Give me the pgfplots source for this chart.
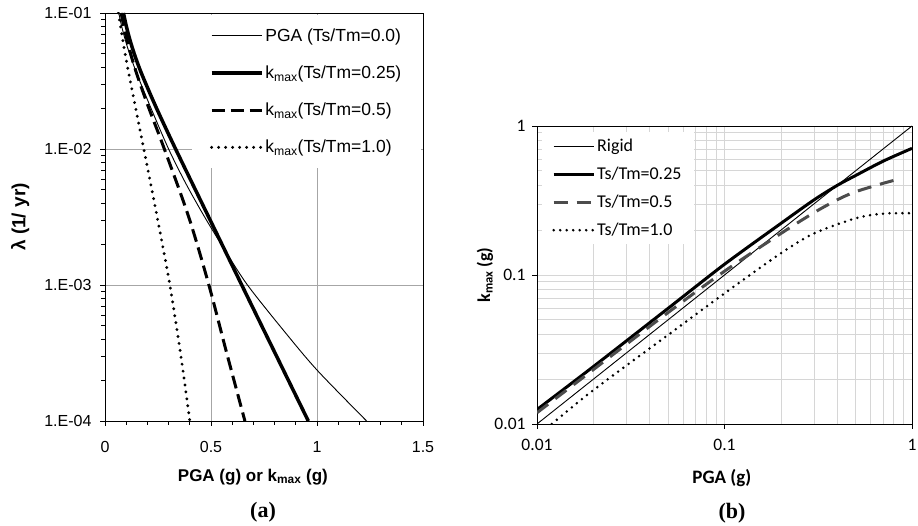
\documentclass[border=0pt]{standalone}
\usepackage{fontspec}
\setmainfont{Liberation Sans}
\newfontfamily\calibri{Carlito}
\newfontfamily\timesf{Liberation Serif}
\usepackage{pgfplots}
\pgfplotsset{compat=1.18}
\begin{document}
\begin{tikzpicture}
\useasboundingbox (0pt,0pt) rectangle (918pt,526pt);
% ---------------- panel (a) ----------------
\begin{axis}[
  name=A, at={(105pt,105pt)}, anchor=south west,
  scale only axis, width=318pt, height=408pt,
  ymode=log, xmin=0, xmax=1.5, ymin=1e-4, ymax=1e-1,
  xtick={0,0.5,1,1.5}, xticklabels={0,0.5,1,1.5},
  minor xtick={0.1,0.2,0.3,0.4,0.6,0.7,0.8,0.9,1.1,1.2,1.3,1.4},
  ytick={1e-4,1e-3,1e-2,1e-1}, yticklabels={1.E-04,1.E-03,1.E-02,1.E-01},
  minor ytick={2e-4,3e-4,4e-4,5e-4,6e-4,7e-4,8e-4,9e-4,2e-3,3e-3,4e-3,5e-3,6e-3,7e-3,8e-3,9e-3,2e-2,3e-2,4e-2,5e-2,6e-2,7e-2,8e-2,9e-2},
  tick align=outside, xtick pos=left, ytick pos=left,
  major tick length=5pt, minor tick length=4pt,
  tick style={black, line width=0.9pt},
  axis line style={line width=0.9pt},
  grid=major, major grid style={gray!70, line width=0.8pt},
  tick label style={font=\fontsize{16}{19}\selectfont},
  xticklabel style={yshift=-12pt},
  yticklabel style={xshift=-5pt},
  xlabel={\bfseries PGA (g) or k\textsubscript{max} (g)},
  ylabel={\bfseries λ (1/ yr)},
  x label style={at={(axis description cs:0.465,-0.137)}, anchor=center, font=\fontsize{17}{20}\selectfont},
  y label style={at={(axis description cs:-0.267,0.5)}, anchor=center, font=\fontsize{19}{22}\selectfont},
  legend style={at={(axis description cs:1,1)}, anchor=north east, xshift=-1.5pt, yshift=-1.5pt, fill=white, draw=none,
    font=\fontsize{17.5}{21}\selectfont, row sep=19pt, inner xsep=18pt, inner ysep=12pt},
  legend cell align=left,
  legend image code/.code={\draw[#1] (0pt,0pt) -- (50pt,0pt);},
]
\addplot[black, line width=0.9pt, smooth] coordinates {
 (0.065,0.1) (0.079,0.07943) (0.096,0.0631) (0.116,0.0501) (0.139,0.03981) (0.164,0.03162)
 (0.217,0.01995) (0.30,0.01) (0.38,0.005623) (0.47,0.003162) (0.568,0.001778) (0.672,0.001)
 (0.84,0.000468) (1.0,0.000237) (1.234,0.0001)};
\addlegendentry{PGA (Ts/Tm=0.0)}
\addplot[black, line width=3.5pt, smooth] coordinates {
 (0.087,0.1) (0.101,0.07943) (0.118,0.0631) (0.138,0.0501) (0.161,0.03981) (0.187,0.03162)
 (0.243,0.01995) (0.333,0.01) (0.489,0.003162) (0.645,0.001) (0.802,0.0003162) (0.959,0.0001)};
\addlegendentry{k\textsubscript{max}(Ts/Tm=0.25)}
\addplot[black, line width=3pt, dash pattern=on 13pt off 6pt, smooth] coordinates {
 (0.076,0.1) (0.089,0.07943) (0.104,0.0631) (0.121,0.0501) (0.140,0.03981) (0.161,0.03162)
 (0.207,0.01995) (0.28,0.01) (0.395,0.003162) (0.49,0.001) (0.574,0.0003162) (0.66,0.0001)};
\addlegendentry{k\textsubscript{max}(Ts/Tm=0.5)}
\addplot[black, line width=3.2pt, line cap=round, dash pattern=on 0pt off 7pt, smooth] coordinates {
 (0.063,0.1) (0.095,0.0501) (0.119,0.03162) (0.145,0.01995) (0.183,0.01) (0.246,0.003162)
 (0.306,0.001) (0.356,0.0003162) (0.40,0.0001)};
\addlegendentry{k\textsubscript{max}(Ts/Tm=1.0)}
\end{axis}
% ---------------- panel (b) ----------------
\begin{axis}[
  name=B, at={(537pt,102pt)}, anchor=south west,
  scale only axis, width=375pt, height=298pt,
  xmode=log, ymode=log, xmin=0.01, xmax=1, ymin=0.01, ymax=1,
  xtick={0.01,0.1,1}, xticklabels={0.01,0.1,1},
  ytick={0.01,0.1,1}, yticklabels={0.01,0.1,1},
  minor xtick={0.02,0.03,0.04,0.05,0.06,0.07,0.08,0.09,0.2,0.3,0.4,0.5,0.6,0.7,0.8,0.9},
  minor ytick={0.02,0.03,0.04,0.05,0.06,0.07,0.08,0.09,0.2,0.3,0.4,0.5,0.6,0.7,0.8,0.9},
  tick align=outside, xtick pos=left, ytick pos=left,
  major tick length=5pt, minor tick length=0pt,
  tick style={black, line width=0.9pt},
  axis line style={line width=0.9pt},
  grid=both, major grid style={gray!32, line width=0.8pt}, minor grid style={gray!32, line width=0.8pt},
  tick label style={font=\calibri\fontsize{17.5}{20}\selectfont},
  xticklabel style={yshift=-7pt},
  yticklabel style={xshift=-3pt},
  xlabel={\calibri\bfseries PGA (g)},
  ylabel={\calibri\bfseries k\textsubscript{max} (g)},
  x label style={at={(axis description cs:0.493,-0.181)}, anchor=center, font=\fontsize{19}{22}\selectfont},
  y label style={at={(axis description cs:-0.139,0.5)}, anchor=center, font=\fontsize{18}{21}\selectfont},
  legend style={at={(axis description cs:0,1)}, anchor=north west, xshift=5pt, yshift=-6pt, fill=white, draw=none,
    font=\calibri\fontsize{18}{21}\selectfont, row sep=10pt, inner xsep=10pt, inner ysep=5pt},
  legend cell align=left,
  legend image code/.code={\draw[#1] (0pt,0pt) -- (40pt,0pt);},
]
\addplot[black, line width=0.9pt] coordinates {(0.01,0.01) (1,1)};
\addlegendentry{Rigid}
\addplot[black, line width=3pt, smooth] coordinates {
 (0.01,0.0125) (0.02,0.0243) (0.05,0.0597) (0.1,0.118) (0.2,0.222) (0.3,0.319) (0.4,0.40) (0.5,0.465) (0.7,0.58) (1.0,0.708)};
\addlegendentry{Ts/Tm=0.25}
\addplot[black!70, line width=3pt, dash pattern=on 14pt off 9pt, smooth] coordinates {
 (0.01,0.0119) (0.02,0.0232) (0.05,0.056) (0.1,0.106) (0.2,0.19) (0.3,0.262) (0.4,0.32) (0.5,0.362) (0.7,0.412) (0.85,0.44)};
\addlegendentry{Ts/Tm=0.5}
\addplot[black, line width=2.8pt, line cap=round, dash pattern=on 0pt off 6.5pt, smooth] coordinates {
 (0.012,0.01) (0.02,0.0169) (0.05,0.0396) (0.1,0.0753) (0.2,0.14) (0.3,0.19) (0.5,0.24) (0.7,0.258) (1.0,0.26)};
\addlegendentry{Ts/Tm=1.0}
\end{axis}
\node[font=\timesf\bfseries\fontsize{22}{26}\selectfont] at (263pt,14pt) {(a)};
\node[font=\timesf\bfseries\fontsize{22}{26}\selectfont] at (732pt,13pt) {(b)};
\end{tikzpicture}
\end{document}
